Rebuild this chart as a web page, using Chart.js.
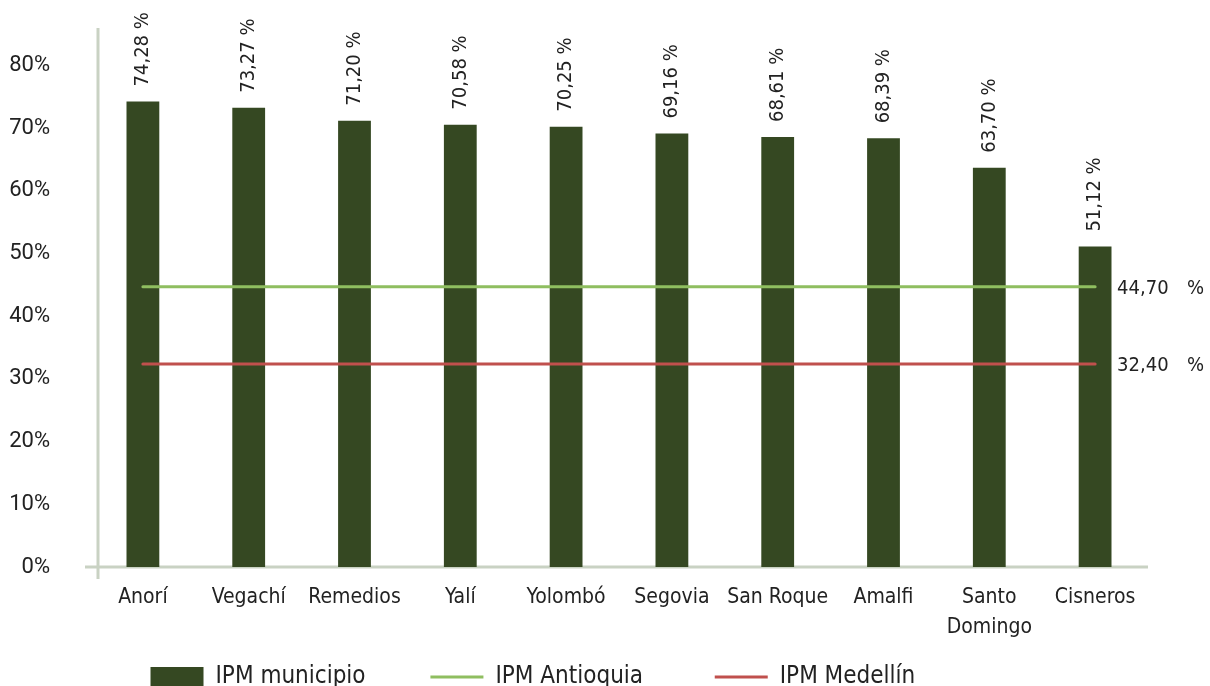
<!DOCTYPE html>
<html>
<head>
<meta charset="utf-8">
<script src="https://cdn.jsdelivr.net/npm/chart.js@4/dist/chart.umd.min.js"></script>
<style>
  html, body { margin: 0; padding: 0; background: #fff; }
  #wrap { width: 1210px; height: 686px; position: relative; }
</style>
</head>
<body>
<div id="wrap"><canvas id="ipmChart"></canvas></div>
<script>
const municipios = ['Anorí', 'Vegachí', 'Remedios', 'Yalí', 'Yolombó', 'Segovia', 'San Roque', 'Amalfi', ['Santo', 'Domingo'], 'Cisneros'];
const ipmMunicipio = [74.28, 73.27, 71.20, 70.58, 70.25, 69.16, 68.61, 68.39, 63.70, 51.12];
const ipmAntioquia = [44.70, 44.70, 44.70, 44.70, 44.70, 44.70, 44.70, 44.70, 44.70, 44.70];
const ipmMedellin = [32.40, 32.40, 32.40, 32.40, 32.40, 32.40, 32.40, 32.40, 32.40, 32.40];

const fuente = "'DejaVu Sans Condensed', 'DejaVu Sans', sans-serif";
const colorEje = '#c9d2c3';

function formato(v) {
  return v.toFixed(2).replace('.', ',');
}

// ejes dibujados a mano (el eje vertical va un poco a la derecha del inicio de las categorias)
const ejes = {
  id: 'ejes',
  beforeDatasetsDraw(chart) {
    const ctx = chart.ctx;
    const area = chart.chartArea;
    const yEje = chart.scales.y.getPixelForValue(0);
    ctx.save();
    ctx.strokeStyle = colorEje;
    ctx.lineWidth = 3;
    ctx.beginPath();
    ctx.moveTo(area.left - 5, yEje);
    ctx.lineTo(area.right, yEje);
    ctx.moveTo(area.left + 8, area.top);
    ctx.lineTo(area.left + 8, yEje + 12);
    ctx.stroke();
    ctx.restore();
  }
};

// etiquetas de las barras (verticales) y de las lineas (a la derecha)
const etiquetas = {
  id: 'etiquetas',
  afterDatasetsDraw(chart) {
    const ctx = chart.ctx;
    ctx.save();
    ctx.fillStyle = '#222';
    ctx.font = '20px ' + fuente;

    chart.getDatasetMeta(0).data.forEach((bar, i) => {
      ctx.save();
      ctx.translate(bar.x, bar.y - 15);
      ctx.rotate(-Math.PI / 2);
      ctx.textAlign = 'left';
      ctx.textBaseline = 'middle';
      ctx.fillText(formato(ipmMunicipio[i]) + ' %', 0, 0);
      ctx.restore();
    });

    [1, 2].forEach((idx) => {
      const pts = chart.getDatasetMeta(idx).data;
      const last = pts[pts.length - 1];
      const val = chart.data.datasets[idx].data[pts.length - 1];
      ctx.textAlign = 'left';
      ctx.textBaseline = 'middle';
      ctx.fillText(formato(val), last.x + 22, last.y + 2);
      ctx.fillText('%', last.x + 92, last.y + 2);
    });
    ctx.restore();
  }
};

const ctx = document.getElementById('ipmChart').getContext('2d');

new Chart(ctx, {
  type: 'bar',
  data: {
    labels: municipios,
    datasets: [
      {
        label: 'IPM municipio',
        data: ipmMunicipio,
        backgroundColor: '#354822',
        barPercentage: 0.31,
        categoryPercentage: 1,
        pointStyle: 'rect',
        order: 1,
      },
      {
        type: 'line',
        label: 'IPM Antioquia',
        data: ipmAntioquia,
        borderColor: '#8fbe60',
        backgroundColor: '#8fbe60',
        borderWidth: 3,
        borderCapStyle: 'round',
        pointRadius: 0,
        pointStyle: 'line',
        order: 0,
      },
      {
        type: 'line',
        label: 'IPM Medellín',
        data: ipmMedellin,
        borderColor: '#c0504d',
        backgroundColor: '#c0504d',
        borderWidth: 3,
        borderCapStyle: 'round',
        pointRadius: 0,
        pointStyle: 'line',
        order: 0,
      },
    ],
  },
  options: {
    responsive: true,
    maintainAspectRatio: false,
    animation: false,
    layout: {
      padding: { top: 28, right: 62, left: 0, bottom: -13 },
    },
    plugins: {
      tooltip: { enabled: false },
      legend: {
        position: 'bottom',
        labels: {
          usePointStyle: true,
          pointStyleWidth: 53,
          boxHeight: 20,
          padding: 10,
          color: '#222',
          font: { family: fuente, size: 24 },
          sort: (a, b) => a.datasetIndex - b.datasetIndex,
          generateLabels(chart) {
            const items = Chart.defaults.plugins.legend.labels.generateLabels(chart);
            // espacios al final para separar los elementos como en el original
            const relleno = { 0: 8, 1: 9, 2: 12 };
            items.forEach((it) => {
              it.text = it.text + ' '.repeat(relleno[it.datasetIndex]);
            });
            return items;
          },
        },
      },
    },
    scales: {
      x: {
        grid: { display: false, drawTicks: false },
        border: { display: false },
        afterFit(scale) { scale.height = 88; },
        ticks: {
          color: '#222',
          font: { family: fuente, size: 21, lineHeight: 1.43 },
          maxRotation: 0,
          autoSkip: false,
          padding: 16,
        },
      },
      y: {
        min: 0,
        max: 86,
        grid: { display: false, drawTicks: false },
        border: { display: false },
        afterFit(scale) {
          scale.width = 90;
          scale.paddingTop = 13;
          scale.paddingBottom = 13;
        },
        ticks: {
          stepSize: 10,
          color: '#222',
          padding: 40,
          font: { family: "'Liberation Sans Narrow', Roboto, sans-serif", size: 22 },
          callback: function (value) {
            return value % 10 === 0 ? value + '%' : '';
          },
        },
      },
    },
  },
  plugins: [ejes, etiquetas],
});
</script>
</body>
</html>
